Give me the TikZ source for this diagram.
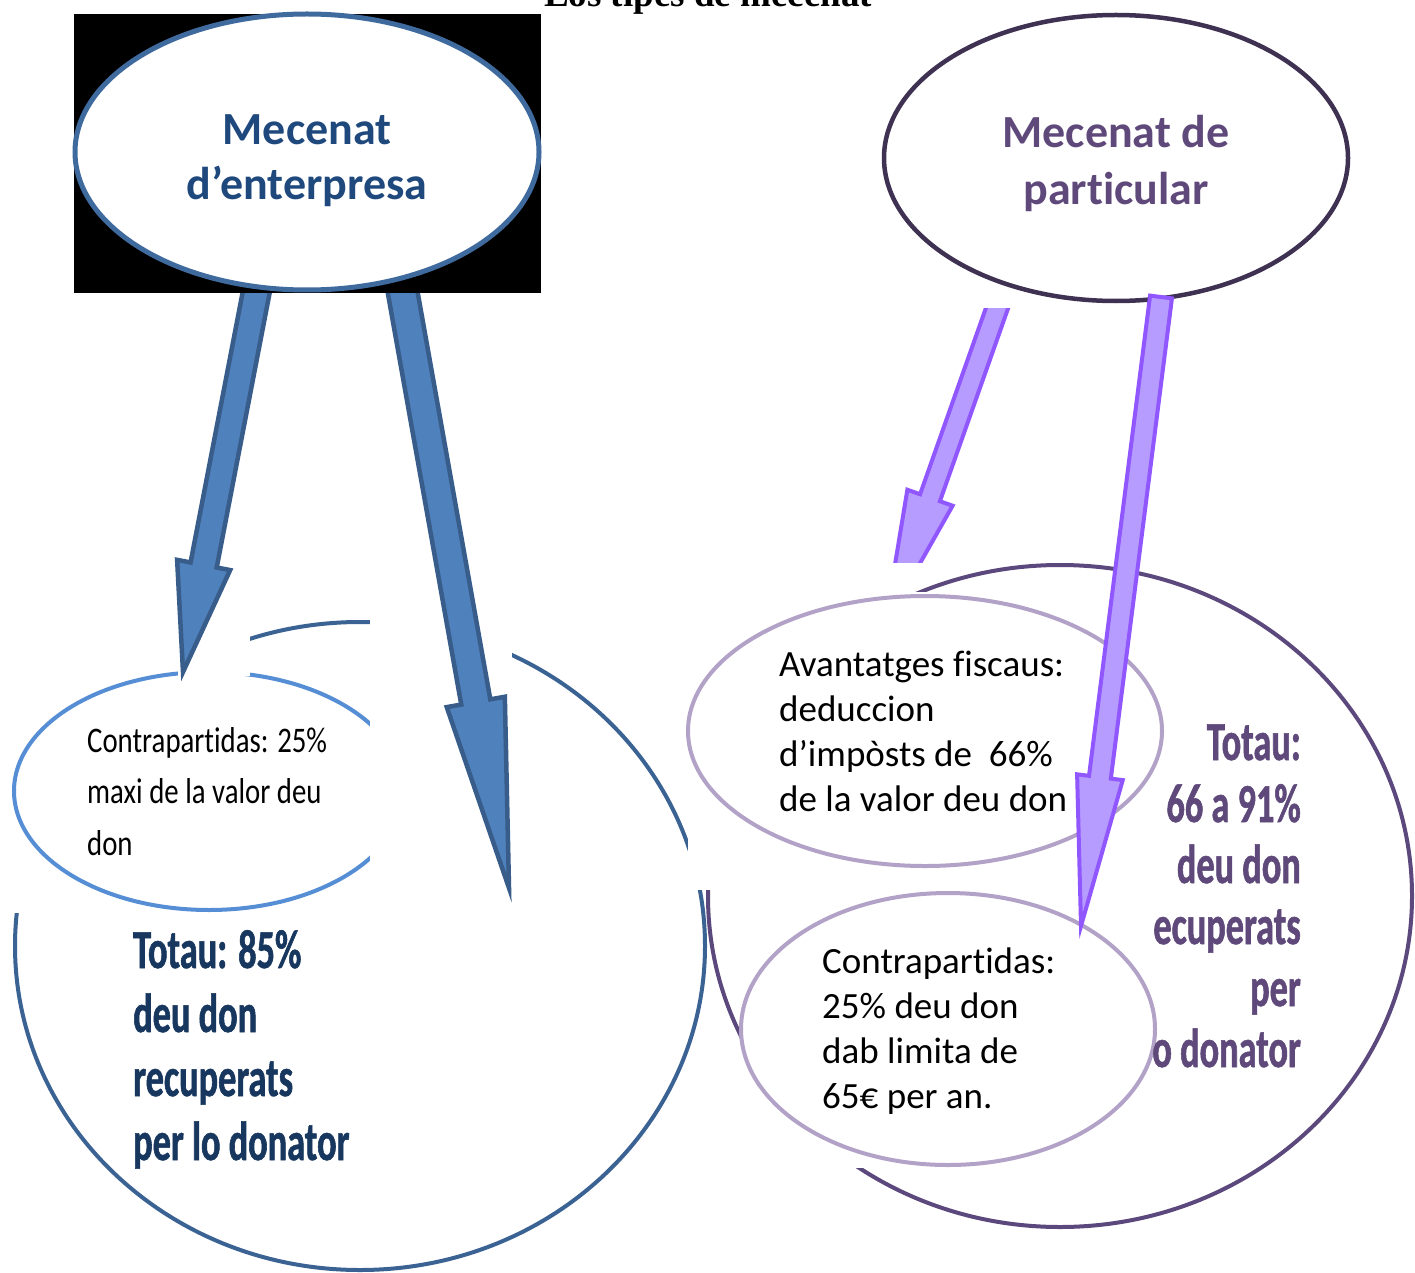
\documentclass[tikz,border=0pt]{standalone}
\usepackage{fontspec}
\setmainfont[Ligatures=NoCommon]{Carlito}
\newfontfamily\titlefont{Liberation Serif}
\newfontfamily\condfont[FakeStretch=0.8,Ligatures=NoCommon]{Carlito}
\newfontfamily\bcondfont[FakeStretch=0.66,FakeBold=1,Ligatures=NoCommon]{Carlito}
\usetikzlibrary{calc,shapes.geometric}
\definecolor{enttext}{HTML}{1F497D}
\definecolor{entline}{HTML}{3F6A9E}
\definecolor{circblue}{HTML}{3A6393}
\definecolor{lightblue}{HTML}{558ED5}
\definecolor{arrowfill}{HTML}{4F81BD}
\definecolor{arrowline}{HTML}{385D8A}
\definecolor{navytext}{HTML}{17375E}
\definecolor{purtext}{HTML}{5F497A}
\definecolor{purdark}{HTML}{3F3151}
\definecolor{purcirc}{HTML}{5B487C}
\definecolor{purlight}{HTML}{B3A2C7}
\definecolor{parfill}{HTML}{B79CFF}
\definecolor{parline}{HTML}{9157FF}
\newcommand{\blockarrow}[6]{%
  \coordinate (ahb) at ($(#3)!#6!(#2)$);
  \draw[#1] ($(#2)!#4!90:(#3)$) -- ($(ahb)!#4!90:(#3)$) -- ($(ahb)!#5!90:(#3)$) -- (#3)
     -- ($(ahb)!#5!-90:(#3)$) -- ($(ahb)!#4!-90:(#3)$) -- ($(#2)!#4!-90:(#3)$) -- cycle;}
\tikzset{
  bluearrow/.style={fill=arrowfill, draw=arrowline, line width=4.5pt, line join=miter},
  purarrow/.style={fill=parfill, draw=parline, line width=4pt, line join=miter},
  mask/.style={fill=white},
  oval/.style={ellipse, inner sep=0pt, fill=white},
  txt/.style={inner sep=0pt, align=left}
}
\begin{document}
\begin{tikzpicture}[x=1pt,y=-1pt]
\useasboundingbox (0,0) rectangle (1415,1273);
\fill[white] (0,0) rectangle (1415,1273);

% title (cut at the top, as in the reference)
\node[anchor=base, inner sep=0pt, font=\titlefont\bfseries\fontsize{37pt}{44pt}\selectfont] (title) at (708,7) {Los tipes de mecenat};

% ---------- left side ----------
\node[oval, draw=circblue, line width=4pt, minimum width=690pt, minimum height=648pt] (bigL) at (360,946) {};
\fill[mask] (0,660) rectangle (370,913);
\begin{scope}
  \clip (0,660) rectangle (370,913);
  \node[oval, draw=lightblue, line width=4pt, minimum width=390pt, minimum height=238pt] (cpL) at (209,791) {};
\end{scope}
\node[txt, anchor=base west, font=\condfont\fontsize{36pt}{51.5pt}\selectfont] (cpLt) at (87,752) {Contrapartidas: 25\%};
\node[txt, anchor=base west, font=\condfont\fontsize{36pt}{51.5pt}\selectfont] (cpLt2) at (87,803) {maxi de la valor deu};
\node[txt, anchor=base west, font=\condfont\fontsize{36pt}{51.5pt}\selectfont] (cpLt3) at (87,855) {don};

\node[txt, anchor=base west, text=navytext, font=\bcondfont\bfseries\fontsize{55pt}{64pt}\selectfont] (totL1) at (133,968) {Totau: 85\%};
\node[txt, anchor=base west, text=navytext, font=\bcondfont\bfseries\fontsize{55pt}{64pt}\selectfont] (totL2) at (133,1032) {deu don};
\node[txt, anchor=base west, text=navytext, font=\bcondfont\bfseries\fontsize{55pt}{64pt}\selectfont] (totL3) at (133,1096) {recuperats};
\node[txt, anchor=base west, text=navytext, font=\bcondfont\bfseries\fontsize{55pt}{64pt}\selectfont] (totL4) at (133,1160) {per lo donator};

\fill[mask] (178,600) rectangle (250,676);
\coordinate (a1s) at (258,283);
\coordinate (a1e) at (183,672);
\blockarrow{bluearrow}{a1s}{a1e}{13.3pt}{27pt}{109pt}

\fill[mask] (370,600) rectangle (512,890);
\coordinate (a2s) at (401,283);
\coordinate (a2e) at (509,888);
\blockarrow{bluearrow}{a2s}{a2e}{14.75pt}{29.5pt}{189pt}

\fill[black] (74,14) rectangle (541,293);
\node[oval, draw=entline, line width=5pt, minimum width=464pt, minimum height=276pt] (ent) at (307,152) {};
\node[anchor=base, inner sep=0pt, text=enttext, font=\bfseries\fontsize{46pt}{56pt}\selectfont] (entt1) at (307,145) {Mecenat};
\node[anchor=base, inner sep=0pt, text=enttext, font=\bfseries\fontsize{46pt}{56pt}\selectfont] (entt2) at (307,200) {d’enterpresa};

% ---------- right side ----------
\begin{scope}
  \clip (850,308) rectangle (1100,562);
  \coordinate (a3s) at (1002,294);
  \coordinate (a3e) at (885,625);
  \blockarrow{purarrow}{a3s}{a3e}{10.5pt}{24pt}{135pt}
\end{scope}

\node[oval, draw=purcirc, line width=4pt, minimum width=704pt, minimum height=662pt] (bigR) at (1060,896) {};

\fill[mask] (688,592) rectangle (1166,890);
\node[oval, draw=purlight, line width=4pt, minimum width=474pt, minimum height=270pt] (avt) at (925,731) {};
\node[txt, anchor=base west, font=\fontsize{37pt}{45pt}\selectfont] (avt1) at (779,676) {Avantatges fiscaus:};
\node[txt, anchor=base west, font=\fontsize{37pt}{45pt}\selectfont] (avt2) at (779,721) {deduccion};
\node[txt, anchor=base west, font=\fontsize{37pt}{45pt}\selectfont] (avt3) at (779,766) {d’impòsts de\ \ 66\%};
\node[txt, anchor=base west, font=\fontsize{37pt}{45pt}\selectfont] (avt4) at (779,811) {de la valor deu don};

\fill[mask] (740,890) rectangle (1157,1168);
\node[oval, draw=purlight, line width=4pt, minimum width=414pt, minimum height=272pt] (cpR) at (948,1029) {};
\node[txt, anchor=base west, font=\fontsize{37pt}{45pt}\selectfont] (cpR1) at (822,973) {Contrapartidas:};
\node[txt, anchor=base west, font=\fontsize{37pt}{45pt}\selectfont] (cpR2) at (822,1018) {25\% deu don};
\node[txt, anchor=base west, font=\fontsize{37pt}{45pt}\selectfont] (cpR3) at (822,1063) {dab limita de};
\node[txt, anchor=base west, font=\fontsize{37pt}{45pt}\selectfont] (cpR4) at (822,1108) {65€ per an.};

\node[txt, anchor=base east, text=purtext, font=\bcondfont\bfseries\fontsize{55pt}{62pt}\selectfont] (totR1) at (1301,760) {Totau:};
\node[txt, anchor=base east, text=purtext, font=\bcondfont\bfseries\fontsize{55pt}{62pt}\selectfont] (totR2) at (1301,822) {66 a 91\%};
\node[txt, anchor=base east, text=purtext, font=\bcondfont\bfseries\fontsize{55pt}{62pt}\selectfont] (totR3) at (1301,883) {deu don};
\node[txt, anchor=base east, text=purtext, font=\bcondfont\bfseries\fontsize{55pt}{62pt}\selectfont] (totR4) at (1301,944) {ecuperats};
\node[txt, anchor=base east, text=purtext, font=\bcondfont\bfseries\fontsize{55pt}{62pt}\selectfont] (totR5) at (1301,1006) {per};
\node[txt, anchor=base east, text=purtext, font=\bcondfont\bfseries\fontsize{55pt}{62pt}\selectfont] (totR6) at (1301,1067) {o donator};

\node[oval, draw=purdark, line width=4.5pt, minimum width=464pt, minimum height=286pt] (par) at (1116,158) {};
\node[anchor=base, inner sep=0pt, text=purtext, font=\bfseries\fontsize{46pt}{56pt}\selectfont] (part1) at (1116,148) {Mecenat de};
\node[anchor=base, inner sep=0pt, text=purtext, font=\bfseries\fontsize{46pt}{56pt}\selectfont] (part2) at (1116,205) {particular};

\coordinate (a4s) at (1161,297);
\coordinate (a4e) at (1081,926);
\blockarrow{purarrow}{a4s}{a4e}{11pt}{23pt}{150pt}
\end{tikzpicture}
\end{document}
